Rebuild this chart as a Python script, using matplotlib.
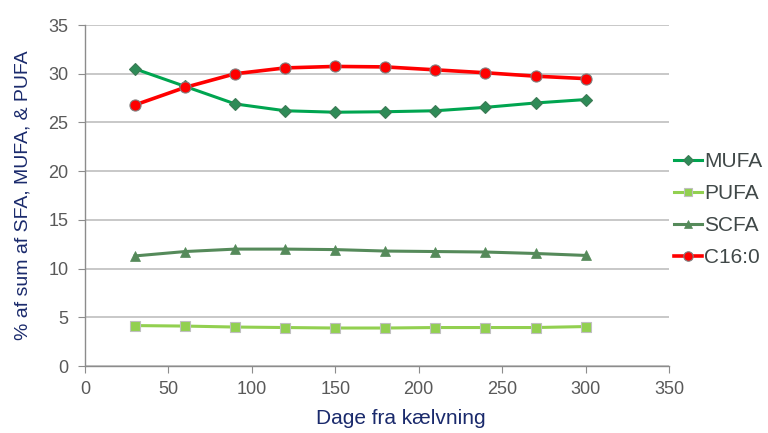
import matplotlib.pyplot as plt

plt.rcParams["font.family"] = ["Liberation Sans", "DejaVu Sans"]

days = [30, 60, 90, 120, 150, 180, 210, 240, 270, 300]
mufa = [30.5, 28.7, 26.9, 26.2, 26.05, 26.1, 26.2, 26.55, 27.0, 27.35]
pufa = [4.15, 4.1, 4.0, 3.95, 3.9, 3.9, 3.95, 3.95, 3.95, 4.05]
scfa = [11.3, 11.75, 12.0, 12.0, 11.95, 11.8, 11.75, 11.7, 11.55, 11.35]
c16 = [26.8, 28.6, 30.0, 30.6, 30.75, 30.7, 30.4, 30.1, 29.75, 29.5]

navy = "#1A2A6C"
tick_grey = "#595959"
axis_grey = "#8C8C8C"

fig = plt.figure(figsize=(7.68, 4.33), dpi=100)
ax = fig.add_axes([0.1107, 0.1547, 0.7604, 0.7875])

ax.plot(days, mufa, color="#00A550", lw=2.2, marker="D", ms=6,
        mfc="#2E8B57", mec="#3C7A55", mew=0.8, label="MUFA", zorder=3)
ax.plot(days, pufa, color="#92D050", lw=2.2, marker="s", ms=7,
        mfc="#92D050", mec="#BFBFBF", mew=0.8, label="PUFA", zorder=3)
ax.plot(days, scfa, color="#558A5A", lw=2.2, marker="^", ms=7.5,
        mfc="#558A5A", mec="#558A5A", mew=0.5, label="SCFA", zorder=3)
ax.plot(days, c16, color="#FF0000", lw=2.6, marker="o", ms=8,
        mfc="#FF0000", mec="#808080", mew=0.8, label="C16:0", zorder=4)

ax.set_xlim(0, 350)
ax.set_ylim(0, 35)
ax.set_xticks(range(0, 351, 50))
ax.set_yticks(range(0, 36, 5))
ax.yaxis.grid(True, color="#BFBFBF", lw=1.2)
ax.set_axisbelow(True)

for side in ("top", "right"):
    ax.spines[side].set_visible(False)
for side in ("left", "bottom"):
    ax.spines[side].set_color(axis_grey)
    ax.spines[side].set_linewidth(1.0)

ax.tick_params(axis="both", colors=axis_grey, labelcolor=tick_grey,
               labelsize=13, length=5, width=0.8)
ax.tick_params(axis="x", pad=6)
ax.tick_params(axis="y", pad=7)

ax.set_xlabel("Dage fra kælvning", color=navy, fontsize=15)
ax.xaxis.set_label_coords(0.541, -0.125)
ax.set_ylabel("% af sum af SFA, MUFA, & PUFA", color=navy, fontsize=14,
              labelpad=12)

fig.legend(*ax.get_legend_handles_labels(), loc="upper left",
           bbox_to_anchor=(0.878, 0.648), bbox_transform=fig.transFigure,
           frameon=False, fontsize=15, handlelength=1.35, handletextpad=0.08,
           labelspacing=0.62, borderpad=0, borderaxespad=0,
           labelcolor="#404848", markerscale=0.85)

fig.savefig("out.png", dpi=100)
